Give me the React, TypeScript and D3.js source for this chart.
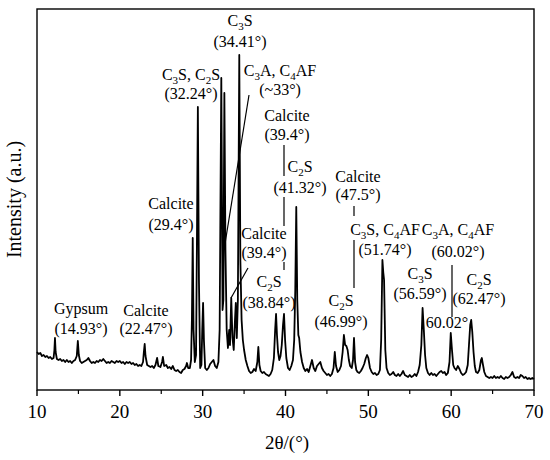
import React from "react";
import * as d3 from "d3";

// ---- data ----
const TWO_THETA = [
  10.0, 10.2, 10.4, 10.6, 10.8, 11.0, 11.2, 11.4, 11.6, 11.8, 12.0, 12.1, 12.17, 12.25, 12.4, 12.6, 12.8, 13.0, 13.2, 13.4,
  13.6, 13.8, 14.0, 14.2, 14.4, 14.6, 14.8, 14.93, 15.05, 15.2, 15.4, 15.6, 15.8, 16.0, 16.2, 16.4, 16.6, 16.8, 17.0, 17.2,
  17.4, 17.6, 17.8, 18.0, 18.2, 18.4, 18.6, 18.8, 19.0, 19.2, 19.4, 19.6, 19.8, 20.0, 20.2, 20.4, 20.6, 20.8, 21.0, 21.2,
  21.4, 21.6, 21.8, 22.0, 22.2, 22.4, 22.6, 22.8, 22.9, 23.0, 23.1, 23.3, 23.5, 23.7, 23.9, 24.1, 24.3, 24.5, 24.65, 24.9,
  25.1, 25.2, 25.35, 25.6, 25.8, 26.0, 26.2, 26.4, 26.6, 26.8, 27.0, 27.2, 27.4, 27.6, 27.8, 28.0, 28.1, 28.25, 28.45, 28.6,
  28.7, 28.8, 28.9, 29.05, 29.2, 29.3, 29.42, 29.55, 29.7, 29.85, 29.95, 30.05, 30.15, 30.3, 30.5, 30.7, 30.9, 31.1, 31.3, 31.5,
  31.7, 31.9, 32.05, 32.15, 32.25, 32.4, 32.5, 32.62, 32.75, 32.9, 33.05, 33.2, 33.3, 33.45, 33.6, 33.75, 33.9, 34.0, 34.12, 34.25,
  34.42, 34.55, 34.7, 34.85, 35.0, 35.2, 35.4, 35.6, 35.8, 36.0, 36.2, 36.4, 36.6, 36.72, 36.85, 37.0, 37.2, 37.4, 37.6, 37.8,
  38.0, 38.2, 38.4, 38.6, 38.75, 38.86, 38.97, 39.1, 39.25, 39.4, 39.55, 39.7, 39.82, 39.95, 40.1, 40.3, 40.5, 40.7, 40.9, 41.05,
  41.18, 41.3, 41.42, 41.55, 41.65, 41.8, 42.0, 42.2, 42.4, 42.6, 42.8, 43.0, 43.2, 43.4, 43.6, 43.8, 44.0, 44.2, 44.4, 44.6,
  44.8, 45.0, 45.2, 45.4, 45.6, 45.8, 45.95, 46.1, 46.3, 46.5, 46.7, 46.9, 47.05, 47.2, 47.35, 47.5, 47.65, 47.8, 48.0, 48.15,
  48.27, 48.4, 48.55, 48.7, 48.9, 49.1, 49.3, 49.5, 49.7, 49.85, 50.0, 50.2, 50.4, 50.6, 50.8, 51.0, 51.2, 51.4, 51.55, 51.7,
  51.8, 51.9, 52.05, 52.2, 52.4, 52.6, 52.8, 53.0, 53.2, 53.4, 53.6, 53.8, 54.0, 54.2, 54.4, 54.6, 54.8, 55.0, 55.2, 55.4,
  55.6, 55.8, 56.0, 56.2, 56.4, 56.55, 56.7, 56.85, 57.0, 57.2, 57.4, 57.6, 57.8, 58.0, 58.2, 58.4, 58.6, 58.8, 59.0, 59.2,
  59.4, 59.6, 59.8, 59.95, 60.1, 60.25, 60.4, 60.6, 60.8, 61.0, 61.2, 61.4, 61.6, 61.8, 62.0, 62.15, 62.3, 62.42, 62.55, 62.7,
  62.85, 63.0, 63.2, 63.4, 63.6, 63.7, 63.8, 64.0, 64.2, 64.4, 64.6, 64.8, 65.0, 65.2, 65.4, 65.6, 65.8, 66.0, 66.2, 66.4,
  66.6, 66.8, 67.0, 67.2, 67.4, 67.6, 67.8, 68.0, 68.2, 68.4, 68.6, 68.8, 69.0, 69.2, 69.4, 69.6, 69.8, 70.0,
];

const INTENSITY = [
  38, 36, 37, 34, 35, 33, 34, 32, 33, 31, 32, 40, 52, 38, 31, 30, 31, 29, 30, 28,
  30, 28, 29, 27, 29, 30, 34, 49, 35, 29, 27, 28, 29, 30, 32, 29, 27, 28, 27, 29,
  28, 30, 29, 31, 29, 27, 28, 27, 29, 28, 27, 29, 28, 29, 27, 28, 26, 28, 27, 28,
  26, 27, 25, 26, 24, 25, 24, 28, 38, 46, 34, 25, 24, 23, 24, 22, 25, 32, 24, 23,
  28, 33, 24, 25, 22, 23, 21, 24, 20, 19, 20, 18, 17, 20, 21, 24, 27, 22, 22, 30,
  70, 152, 60, 28, 35, 140, 283, 110, 22, 25, 60, 87, 50, 22, 20, 22, 26, 28, 30, 24,
  22, 28, 60, 190, 312, 80, 90, 297, 140, 60, 42, 60, 45, 92, 52, 40, 70, 87, 52, 90,
  335, 130, 70, 50, 40, 30, 24, 19, 17, 18, 21, 19, 28, 43, 25, 19, 17, 18, 16, 15,
  14, 16, 20, 32, 60, 76, 55, 38, 30, 34, 45, 65, 76, 50, 32, 22, 20, 24, 30, 50,
  100, 183, 90, 55, 52, 38, 28, 22, 19, 21, 18, 24, 30, 22, 19, 24, 26, 28, 22, 19,
  17, 15, 16, 14, 16, 22, 38, 24, 18, 20, 24, 38, 55, 45, 44, 40, 30, 24, 22, 30,
  52, 28, 20, 18, 17, 19, 22, 26, 32, 35, 32, 22, 18, 16, 17, 15, 16, 20, 50, 130,
  118, 110, 40, 22, 17, 15, 16, 18, 15, 14, 16, 14, 16, 19, 15, 14, 13, 15, 13, 14,
  16, 14, 18, 25, 45, 82, 60, 35, 22, 17, 15, 17, 15, 16, 14, 16, 18, 19, 17, 18,
  15, 17, 28, 57, 40, 25, 22, 20, 24, 21, 17, 15, 16, 18, 25, 45, 65, 70, 58, 38,
  24, 18, 17, 20, 30, 32, 27, 18, 14, 13, 12, 13, 12, 14, 12, 13, 12, 14, 12, 11,
  13, 12, 13, 15, 18, 13, 12, 13, 12, 15, 14, 12, 13, 11, 12, 11, 12, 11,
];

const X_DOMAIN: [number, number] = [10, 70];
const Y_DOMAIN: [number, number] = [0, 381];
const MAJOR_TICKS = [10, 20, 30, 40, 50, 60, 70];
const MINOR_TICKS = [15, 25, 35, 45, 55, 65];

const LABEL_LINE1 = [
  "Gypsum", "Calcite", "Calcite", "C_3S, C_2S", "C_3S", "C_3A, C_4AF", "Calcite", "C_2S",
  "Calcite", "C_2S", "Calcite", "C_3S, C_4AF", "C_2S", "C_3A, C_4AF", "C_3S", "C_2S", "",
];
const LABEL_LINE2 = [
  "(14.93°)", "(22.47°)", "(29.4°)", "(32.24°)", "(34.41°)", "(~33°)", "(39.4°)", "(41.32°)",
  "(39.4°)", "(38.84°)", "(47.5°)", "(51.74°)", "(46.99°)", "(60.02°)", "(56.59°)", "(62.47°)", "60.02°",
];

// ---- layout ----
const W = 550;
const H = 460;
const M = { left: 37, right: 534, top: 9, bottom: 390 };
const FONT = "'Liberation Serif', 'Times New Roman', serif";

// label placement: centre x, baseline of line 1, baseline of line 2 (pixels)
const LABEL_POS: [number, number, number][] = [
  [81, 314, 334], [146, 316, 334], [171, 209, 230], [191, 80, 99], [240, 26, 47],
  [280, 76, 95], [287, 121, 140], [300, 172, 193], [264, 239, 258], [269, 287, 308],
  [358, 182, 200], [385, 235, 255], [341, 306, 327], [458, 235, 257], [420, 279, 299],
  [479, 285, 304], [447, 0, 328],
];

const LEADERS: [number, number, number, number][] = [
  [249, 95, 224, 250],
  [284, 145, 284, 176],
  [284, 197, 284, 226],
  [284, 262, 284, 270],
  [248, 268, 231, 298],
  [354, 206, 354, 216],
  [354, 240, 354, 288],
  [452, 265, 452, 317],
];

function Chem({ s }: { s: string }) {
  const parts = s.split(/(_\d)/).filter((p) => p.length > 0);
  const out: React.ReactNode[] = [];
  let sub = false;
  parts.forEach((p, i) => {
    if (p.startsWith("_")) {
      out.push(
        <tspan key={i} fontSize={11} dy={3.5}>
          {p.slice(1)}
        </tspan>
      );
      sub = true;
    } else {
      out.push(
        <tspan key={i} dy={sub ? -3.5 : 0}>
          {p}
        </tspan>
      );
      sub = false;
    }
  });
  return <>{out}</>;
}

export default function App() {
  const x = d3.scaleLinear().domain(X_DOMAIN).range([M.left, M.right]);
  const y = d3.scaleLinear().domain(Y_DOMAIN).range([M.bottom, M.top]);
  const pts: [number, number][] = TWO_THETA.map((t, i) => [t, INTENSITY[i]]);
  const line = d3
    .line<[number, number]>()
    .x((d) => x(d[0]))
    .y((d) => y(d[1]));

  return (
    <svg
      width={W}
      height={H}
      style={{ position: "absolute", left: 0, top: 0, background: "#fff" }}
      fontFamily={FONT}
    >
      <rect x={0} y={0} width={W} height={H} fill="#fff" />
      <path d={line(pts) || ""} fill="none" stroke="#000" strokeWidth={1.8} strokeLinejoin="round" />

      {LEADERS.map((l, i) => (
        <line key={i} x1={l[0]} y1={l[1]} x2={l[2]} y2={l[3]} stroke="#000" strokeWidth={1.2} />
      ))}

      {LABEL_POS.map((p, i) => (
        <g key={i} fontSize={16} textAnchor="middle" fill="#000">
          {LABEL_LINE1[i] ? (
            <text x={p[0]} y={p[1]}>
              <Chem s={LABEL_LINE1[i]} />
            </text>
          ) : null}
          <text x={p[0]} y={p[2]}>
            {LABEL_LINE2[i]}
          </text>
        </g>
      ))}

      {/* frame */}
      <rect
        x={M.left}
        y={M.top}
        width={M.right - M.left}
        height={M.bottom - M.top}
        fill="none"
        stroke="#000"
        strokeWidth={1.4}
      />

      {/* x ticks */}
      {MAJOR_TICKS.map((t) => (
        <g key={"M" + t}>
          <line x1={x(t)} x2={x(t)} y1={M.bottom} y2={M.bottom + 6} stroke="#000" strokeWidth={1.4} />
          <text x={x(t)} y={418} fontSize={19} textAnchor="middle">
            {t}
          </text>
        </g>
      ))}
      {MINOR_TICKS.map((t) => (
        <line key={"m" + t} x1={x(t)} x2={x(t)} y1={M.bottom} y2={M.bottom + 4} stroke="#000" strokeWidth={1.2} />
      ))}

      <text x={287} y={449} fontSize={19} textAnchor="middle">
        2θ/(°)
      </text>
      <text
        transform={`translate(21, ${(M.top + M.bottom) / 2}) rotate(-90)`}
        fontSize={20}
        textAnchor="middle"
      >
        Intensity (a.u.)
      </text>
    </svg>
  );
}
